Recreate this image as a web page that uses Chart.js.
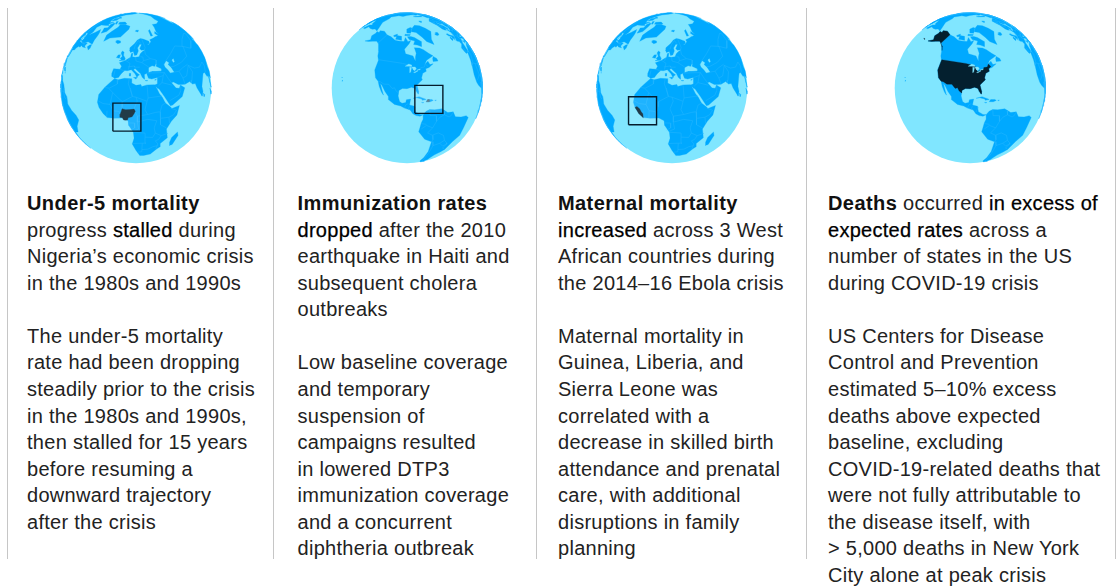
<!DOCTYPE html>
<html>
<head>
<meta charset="utf-8">
<script src="https://cdn.jsdelivr.net/npm/chart.js@4"></script>
<style>
  html, body { margin: 0; padding: 0; background: #fff; }
  #page { position: relative; width: 1118px; height: 586px; overflow: hidden; }
  canvas { position: absolute; }
  .rule { position: absolute; top: 8px; width: 1.5px; height: 551px; background: #c6c6c6; }
  .line { position: absolute; white-space: nowrap; color: #222; font: 400 20px/26px "Liberation Sans", sans-serif; letter-spacing: 0.28px; }
  .line b { font-weight: 700; color: #111; letter-spacing: 0.42px; }
  .line i { font-style: normal; font-weight: 400; color: #000; -webkit-text-stroke: 0.25px #000; }
</style>
</head>
<body>
<div id="page"></div>
<script>
// land outlines, [lon, lat]
const northAmerica = [[-168,66],[-162,67],[-166,68.5],[-157,71],[-141,70],[-128,70],[-115,68],[-108,68],[-96,68],[-94,72],[-88,68],[-82,69],[-86,66],[-94,61],[-92,57],[-82,55],[-80,51],[-79,54],[-77,57],[-78,62],[-70,61],[-65,59],[-60,55],[-56,52],[-66,50],[-70,47],[-65,49],[-64,46],[-60,46],[-66,44],[-70,43.5],[-70,41.5],[-74,40.5],[-76,37],[-75.5,35.5],[-78,34],[-81,32],[-80,27],[-80.5,25],[-82,27],[-83,29.5],[-86,30.5],[-90,29.5],[-94,29.5],[-97,28],[-97.5,24],[-96,19.5],[-94,18.2],[-91,18.8],[-90.5,21],[-87,21.5],[-88,17],[-84,15.8],[-83.5,11.5],[-80,9],[-77.5,8.5],[-80,7.5],[-83,8.3],[-85.5,10],[-87.5,13],[-92,14.5],[-95,16],[-100,17],[-105,20],[-105.5,22.5],[-109,26],[-112.5,30],[-114.5,31.5],[-112,27],[-109.8,23],[-112,25],[-115,29],[-117,32.5],[-120.5,34.5],[-124,40],[-124.5,48],[-128,51],[-131,55],[-135,58],[-140,60],[-146,61],[-152,59],[-158,56.5],[-164,54.5],[-158,58.5],[-165,61],[-165,64.5]];
const southAmerica = [[-77.5,8.5],[-75,11],[-72,12],[-68,11],[-62,10.5],[-57,6],[-52,5],[-50,0],[-44,-2.5],[-38,-4],[-35,-7],[-39,-15],[-41,-22],[-48,-26],[-53,-34],[-57,-36],[-62,-39],[-65,-43],[-66,-48],[-69,-52],[-66,-55],[-72,-54],[-75,-48],[-73,-40],[-71,-30],[-70,-18],[-76,-14],[-81,-6],[-80,-2],[-79,2],[-77.5,5]];
const eurasia = [[-5.5,36],[-9,37],[-9.5,39],[-9,43],[-2,43.5],[-1,46],[-4.5,48.5],[2,51],[4,52],[8,54],[8.5,57],[10.5,57.5],[10,54.5],[14,54],[19,54.5],[21,57],[24,58.5],[29,60],[23,60],[21,61.5],[25,65],[22,65.5],[17.5,62],[18.5,59.5],[16,56],[13,55.5],[11,59],[7,58],[5,60],[5,62],[12,66],[18,69.5],[25,71],[31,70],[41,67],[40,65],[35,64],[38,64],[44,66],[44,68],[54,68.5],[60,69],[68,68.5],[67,72],[73,73],[73,69],[75,72],[80,73.5],[90,75.5],[104,77.5],[113,74],[130,71],[140,72.5],[160,70],[170,69.5],[180,68.5],[190,66],[180,65],[177,62.5],[170,60],[163,58],[163,54],[157,51],[156,57],[160,60.5],[155,59.5],[143,59],[135,54.5],[141,53],[139,47],[132,43],[128,40],[129.5,36],[126.5,34.5],[126,37.5],[124.5,40],[121,39],[118,39],[122,37],[119,35],[122,31],[120,26],[114,22.5],[109,21],[106,19],[109,13],[105,9],[103,11],[100,13.5],[99.5,9],[103.5,2],[101,3],[98,8],[98,15],[94.5,16],[92,21],[89,22],[87,21],[80,15],[80,11],[77.5,8],[73,17],[72.5,21],[69,22],[67,25],[61,25],[57,26],[54,27],[50,30],[48,30],[51,25],[54,24],[56,26],[59.5,22.5],[55,17],[45,13],[43,13],[39,21],[35,28],[34.3,28],[32.7,30],[32.3,31.2],[35,32],[35,35],[36,36.5],[30,36],[27,37],[26,40],[26,40.8],[23,40],[23,36.5],[21,38],[19.5,41],[14,45],[12.5,44],[16,41.5],[18.5,40],[16.5,39],[16,38],[14,41],[10,44],[6,43],[3,43],[0,40],[-2,37]];
const africa = [[-5.5,35.8],[-10,31],[-13,27.5],[-17,21],[-17,14.7],[-15,11],[-11,7],[-7.5,4.5],[-2,5],[5,6],[9,4],[9.5,0],[13,-6],[13.5,-12],[12,-18],[15,-26],[18.5,-34],[22,-34],[28,-32.5],[33,-26],[35.5,-24],[35,-20],[40.5,-15],[39,-6],[43,0],[48,4],[51,11],[44,10.5],[43,12],[39,16],[37,21],[35,24],[33.5,28],[32.5,30],[34,31],[31,31.5],[25,32],[20,31],[19.5,32.5],[15,32],[10.5,34],[11,37],[4,37],[-2,35.2]];
const islands = [
  [[-80,73],[-72,71.5],[-62,66.5],[-66,62],[-72,64],[-78,65],[-74,68],[-85,70],[-89,73]],
  [[-117,73],[-105,73],[-102,69],[-115,69]],
  [[-125,72],[-118,74.5],[-116,72],[-122,71]],
  [[-90,77],[-78,76.5],[-62,82],[-70,83],[-90,81.5]],
  [[-96,75.5],[-80,75],[-82,74],[-96,74]],
  [[-59,47.7],[-53,46.8],[-53,49],[-56,51.5],[-58,50]],
  [[-73,78],[-60,76],[-54,70],[-52,65],[-44,60],[-40,65],[-22,70],[-20,75],[-18,80],[-30,83.5],[-60,82],[-68,80]],
  [[-85,22],[-80,23],[-75,20.7],[-74.2,20.2],[-77.5,19.9],[-78,21],[-82,22.3]],
  [[-74.4,18.5],[-73,20],[-69.5,19.5],[-68.4,18.6],[-71,18],[-72,18.1]],
  [[-78.3,18.4],[-76.3,18.1],[-77.3,17.8]],
  [[-67.2,18.4],[-65.7,18.4],[-66.5,17.9]],
  [[49.3,-12],[50.5,-16],[47,-25],[44,-25],[43.5,-21],[44.5,-16]],
  [[-5.5,50],[1,51],[1.5,52.5],[-1,54.5],[-2,56],[-2,57.5],[-5,58.5],[-6,56.5],[-3,54],[-5,52],[-3,51.3]],
  [[-10,52],[-6,52],[-6,55],[-9,54.5]],
  [[-24,65.5],[-22,64],[-18,63.5],[-14,65],[-16,66.5],[-22,66.3]],
  [[12,79],[22,78],[26,80],[15,80]],
  [[52,71],[57,70.7],[68,77],[60,76.5]],
  [[12.5,38],[15.5,38.2],[15,36.8]],
  [[8.2,41],[9.7,41],[9.5,39],[8.5,39]],
  [[23.5,35.5],[26.2,35.2],[24.5,35]],
  [[32.5,35],[34.5,35.6],[33.5,34.7]],
  [[80,9.5],[82,7],[80.5,6]],
  [[95,5.5],[104,-2],[106,-6],[101,-3]],
  [[130,33],[136,34],[141,36],[141.5,41],[140,40],[136,37],[131,34.5]],
  [[140,42],[145,43.5],[142,45.5]],
  [[142,54],[143.5,49],[142,46]],
  [[-156,19],[-155,19.7],[-155.8,20.2]],
  [[-157.8,21.2],[-158.2,21.6],[-157.6,21.6]]
];
const seas = [
  [[28,41.5],[29,45],[33,46],[36,45],[38,47],[37,45],[41.5,42.5],[41,41],[36,41.5],[32,42]],
  [[47,45],[51,47],[53,45],[51,44],[53,41],[54,37],[50,37.5],[49,40],[47,43]],
  [[58.5,46],[61,46.5],[60,44],[58.5,44]]
];
const lakes = [
  [[-92,46.8],[-88,48.5],[-85,47.8],[-85,46.6],[-88,46.8]],
  [[-87.8,42],[-87,46],[-85,45.8],[-86.3,42]],
  [[-84.5,46],[-81,46],[-80,44.5],[-82,43],[-83.5,44]],
  [[-83.3,41.7],[-79,42.8],[-79,42.5],[-82,41.5]],
  [[-79.7,43.3],[-76.3,44],[-76.3,43.4]]
];
const borders = [
  [[-124.5,48.5],[-95,49],[-89,48],[-84.5,46.5],[-82.5,45],[-82.5,42.5],[-79,43],[-76,44],[-75,45],[-71,45],[-69,47.3],[-67,45]],
  [[-117,32.5],[-114.8,32.5],[-111,31.3],[-106.5,31.8],[-103,29],[-101,29.7],[-99.5,27.5],[-97.2,26]],
  [[-141,70],[-141,60]],[[-92,14.5],[-91,17],[-89,18]],[[-88,16],[-89,14],[-87.5,13]],[[-83.5,15],[-85.5,11]],
  [[-72,12],[-72,7],[-67,6],[-67,1],[-70,-4]],
  [[-70,-4],[-74,-8],[-70,-11],[-65,-10],[-60,-14],[-58,-20],[-55,-24],[-54,-26],[-57,-30],[-53,-34]],
  [[-79,-3.5],[-75,-1],[-70,-4]],[[-79,1.2],[-75,0]],[[-70,-11],[-69,-16],[-70,-18]],
  [[-69,-18],[-68,-23],[-70,-33],[-72,-45],[-72,-52]],[[-68,-23],[-62,-22],[-58,-20]],[[-62,-22],[-58,-27],[-54,-26]],
  [[-60,8.5],[-60,5],[-56,2],[-54,2.5],[-52,5]],[[-60,5],[-64,4],[-67,1]],
  [[-2,35],[-2,32],[-8.7,27.7],[-13,27.5]],[[-8.7,27.3],[-5,25],[-6,15.5],[-12,15],[-16.5,16]],
  [[-5,25],[1,21],[4,19],[12,23.5],[9.5,30],[8,33],[8.5,37]],[[10,30],[12,23.5],[15,23],[24,19.5],[25,22],[25,32]],
  [[25,22],[37,22]],[[4,19],[4,15],[3.5,11.5]],[[15,23],[16,20],[13.5,14]],[[24,19.5],[22,13],[24,9]],
  [[13.5,13.7],[15,10],[16,8],[24,9]],[[16,8],[16,3],[24,5],[31,3]],[[24,9],[30,10],[34,10],[36,15],[39,16]],
  [[34,10],[34,4.5],[41,4],[45,5],[48,8],[43,11]],[[34,4.5],[34,-1],[39,-5]],[[41.5,-1.5],[41,4]],
  [[31,3],[29,-3],[30,-8],[28,-12],[22,-11],[22,-7],[13,-6]],[[16,3],[17,-3],[13,-5]],[[9.5,2.2],[14,2.2],[14,-2],[11,-4]],
  [[12,-17.5],[23,-17.5],[22,-11]],[[30,-8],[35,-11.5],[40.5,-10.5]],[[35,-11.5],[33,-15],[30.5,-16],[33,-20],[32,-26]],
  [[20,-17.5],[20,-28],[16.5,-28.5]],[[20,-25],[25,-25],[29,-22.5],[33,-22]],
  [[-6,15.5],[-3,11],[2,11],[3,6.4]],[[-3,11],[-3,5]],[[-8,10],[-8,4.5]],
  [[-2,43.5],[3,42.5]],[[-7,42],[-7,37]],[[2.5,51],[8,49],[7,44]],[[6,46],[13.5,47],[13.5,46],[19,46]],[[6,51],[7,53.5]],
  [[14.5,54],[15,51],[22,49.5],[24,51],[24,54],[21,54.5]],[[22,49.5],[29,45.5]],[[24,51],[33,52],[40,50],[38,47]],
  [[28,56],[28,60]],[[28,56],[33,52]],[[28,70],[30,62],[28,60]],[[20,69],[24,66]],[[12,61],[14,65],[20,69]],
  [[26,41],[44,39],[42,37],[36,36.5]],[[44,39],[46,34],[48,30]],[[35,30],[39,32],[46,29],[48,28]],[[42,37],[39,32]],
  [[43,17],[52,19],[55,22],[56,25]],[[61,25],[61,30],[60,36],[54,37]],
  [[50,47],[62,51],[76,54],[87,49],[80,42],[68,41],[56,41],[53,42]],[[87,49],[98,52],[116,50],[120,47],[111,43],[96,42.5],[87,49]],
  [[74,36],[80,31],[88,28],[97,28],[98,24],[94,20]],[[61,30],[66,30],[71,34],[74,36],[75,30],[70,25],[68,23.5]],[[60,36],[66,37],[74,37]]
];

// highlighted countries, one list per globe
const nigeria = [[2.7,6.4],[4.5,6.3],[5.5,4.5],[7,4.4],[8.5,4.6],[9,6.5],[10.5,7],[12,7.5],[13.5,10],[14.5,12],[13.5,13.7],[10,13.2],[7,13],[4,13.5],[3.5,11.5],[2.7,9]];
const haiti = [[-74.4,18.4],[-73,20],[-71.7,19.8],[-71.8,18.1],[-72.5,18.1]];
const westAfrica = [[-15,11],[-13,9],[-11.5,6.9],[-7.5,4.4],[-8,7.5],[-9.5,9],[-11,11],[-13.5,12.3]];
const usaMain = [[-124.5,48.5],[-95,49],[-89,48],[-84.5,46.5],[-82.5,45],[-82.5,42.5],[-79,43],[-76,44],[-75,45],[-71,45],[-69,47.3],[-67,45],[-70,43.5],[-70,41.5],[-74,40.5],[-76,37],[-75.5,35.5],[-78,34],[-81,32],[-80,27],[-80.5,25],[-82,27],[-83,29.5],[-86,30.5],[-90,29.5],[-94,29.5],[-97,28],[-97.2,26],[-99.5,27.5],[-101,29.7],[-103,29],[-106.5,31.8],[-111,31.3],[-114.8,32.5],[-117,32.5],[-120.5,34.5],[-124,40]];
const usaAlaska = [[-168,66],[-162,67],[-166,68.5],[-157,71],[-141,70],[-141,60],[-135,58.5],[-131,55.5],[-134,58],[-140,60],[-146,61],[-152,59],[-158,56.5],[-164,54.5],[-158,58.5],[-165,61],[-165,64.5]];
const usaAleutians = [[-176,52],[-172,52.4],[-174,52.8]];

// globes: view centre [lon, lat], highlighted shapes, focus of the square
const globeViews = [[15,30],[-90,30],[15,30],[-90,30]];
const globeShapes = [[nigeria],[haiti],[westAfrica],[usaMain,usaAlaska,usaAleutians]];
const globeFocus = [[8,7],[-72,20],[-8.4,10],null];
const globeColors = ['#04202f','#4f6f80','#04202f','#04202f'];

// text, line by line per column
const columnText = [
  ['<b>Under-5 mortality</b>','progress <i>stalled</i> during','Nigeria’s economic crisis','in the 1980s and 1990s','',
   'The under-5 mortality','rate had been dropping','steadily prior to the crisis','in the 1980s and 1990s,','then stalled for 15 years','before resuming a','downward trajectory','after the crisis'],
  ['<b>Immunization rates</b>','<i>dropped</i> after the 2010','earthquake in Haiti and','subsequent cholera','outbreaks','',
   'Low baseline coverage','and temporary','suspension of','campaigns resulted','in lowered DTP3','immunization coverage','and a concurrent','diphtheria outbreak'],
  ['<b>Maternal mortality</b>','<i>increased</i> across 3 West','African countries during','the 2014–16 Ebola crisis','',
   'Maternal mortality in','Guinea, Liberia, and','Sierra Leone was','correlated with a','decrease in skilled birth','attendance and prenatal','care, with additional','disruptions in family','planning'],
  ['<b>Deaths</b> occurred <i>in excess of</i>','<i>expected rates</i> across a','number of states in the US','during COVID-19 crisis','',
   'US Centers for Disease','Control and Prevention','estimated 5–10% excess','deaths above expected','baseline, excluding','COVID-19-related deaths that','were not fully attributable to','the disease itself, with','&gt; 5,000 deaths in New York','City alone at peak crisis']
];

// page layout
const globeX = [136, 407.3, 671.7, 970.3];
const globeY = 87.7;
const globeRadius = 75.3;
const canvasSize = 160;
const ruleX = [6.5, 272.5, 535.5, 805.5, 1114.5];
const textX = [27, 297.5, 558, 828];
const firstLineY = 190;
const lineStep = 26.57;
const boxHalf = 0.186;

const OCEAN = '#80e6ff';
const LAND = '#00a9ff';
const BORDER = '#26b6ff';
const BOX = '#051c2c';

// orthographic projection, points behind the globe get pushed onto the rim
function project(point, view) {
    const rad = Math.PI / 180;
    const lon = (point[0] - view[0]) * rad;
    const lat = point[1] * rad;
    const lat0 = view[1] * rad;
    let x = Math.cos(lat) * Math.sin(lon);
    let y = Math.cos(lat0) * Math.sin(lat) - Math.sin(lat0) * Math.cos(lat) * Math.cos(lon);
    const front = Math.sin(lat0) * Math.sin(lat) + Math.cos(lat0) * Math.cos(lat) * Math.cos(lon);
    if (front < 0) {
        const len = Math.hypot(x, y) || 1;
        x /= len;
        y /= len;
    }
    return {x, y};
}

function shapeDataset(points, view, color) {
    const data = points.map(p => project(p, view));
    data.push(data[0]);
    return {data, showLine: true, fill: 'shape', backgroundColor: color, borderColor: color, borderWidth: 0.3, pointRadius: 0, tension: 0, clip: false};
}

function lineDataset(points, view, color, width) {
    return {data: points.map(p => project(p, view)), showLine: true, fill: false, borderColor: color, borderWidth: width, pointRadius: 0, tension: 0, clip: false};
}

function boxDataset(focus, view) {
    const c = project(focus, view);
    const data = [
        {x: c.x - boxHalf, y: c.y - boxHalf},
        {x: c.x + boxHalf, y: c.y - boxHalf},
        {x: c.x + boxHalf, y: c.y + boxHalf},
        {x: c.x - boxHalf, y: c.y + boxHalf},
        {x: c.x - boxHalf, y: c.y - boxHalf}
    ];
    return {data, showLine: true, fill: 'shape', backgroundColor: 'rgba(255,255,255,0.12)', borderColor: BOX, borderWidth: 1.4, pointRadius: 0, tension: 0, clip: false};
}

function drawGlobe(index) {
    const view = globeViews[index];
    const canvas = document.createElement('canvas');
    canvas.width = canvasSize;
    canvas.height = canvasSize;
    canvas.style.left = (globeX[index] - canvasSize / 2) + 'px';
    canvas.style.top = (globeY - canvasSize / 2) + 'px';
    document.getElementById('page').appendChild(canvas);

    const layers = [];
    layers.push({data: [{x: 0, y: 0}], pointRadius: globeRadius, pointBackgroundColor: OCEAN, pointBorderWidth: 0, showLine: false, clip: false});
    [northAmerica, southAmerica, eurasia, africa, ...islands].forEach(s => layers.push(shapeDataset(s, view, LAND)));
    seas.forEach(s => layers.push(shapeDataset(s, view, OCEAN)));
    borders.forEach(b => layers.push(lineDataset(b, view, BORDER, 0.5)));
    globeShapes[index].forEach(s => layers.push(shapeDataset(s, view, globeColors[index])));
    lakes.forEach(s => layers.push(shapeDataset(s, view, OCEAN)));
    if (globeFocus[index]) layers.push(boxDataset(globeFocus[index], view));

    // chart.js paints the first dataset last
    const range = canvasSize / 2 / globeRadius;
    new Chart(canvas, {
        type: 'scatter',
        data: {datasets: layers.reverse()},
        options: {
            responsive: false,
            animation: false,
            events: [],
            // the big ocean point would otherwise shrink the chart area
            layout: {padding: 0, autoPadding: false},
            plugins: {legend: {display: false}, tooltip: {enabled: false}},
            scales: {
                x: {type: 'linear', min: -range, max: range, display: false},
                y: {type: 'linear', min: -range, max: range, display: false}
            }
        }
    });
}

function drawText() {
    const page = document.getElementById('page');
    ruleX.forEach(x => {
        const rule = document.createElement('div');
        rule.className = 'rule';
        rule.style.left = x + 'px';
        page.appendChild(rule);
    });
    columnText.forEach((lines, col) => {
        lines.forEach((text, row) => {
            if (!text) return;
            const line = document.createElement('div');
            line.className = 'line';
            line.style.left = textX[col] + 'px';
            line.style.top = (firstLineY + row * lineStep) + 'px';
            line.innerHTML = text;
            page.appendChild(line);
        });
    });
}

drawText();
globeViews.forEach((view, i) => drawGlobe(i));
</script>
</body>
</html>
